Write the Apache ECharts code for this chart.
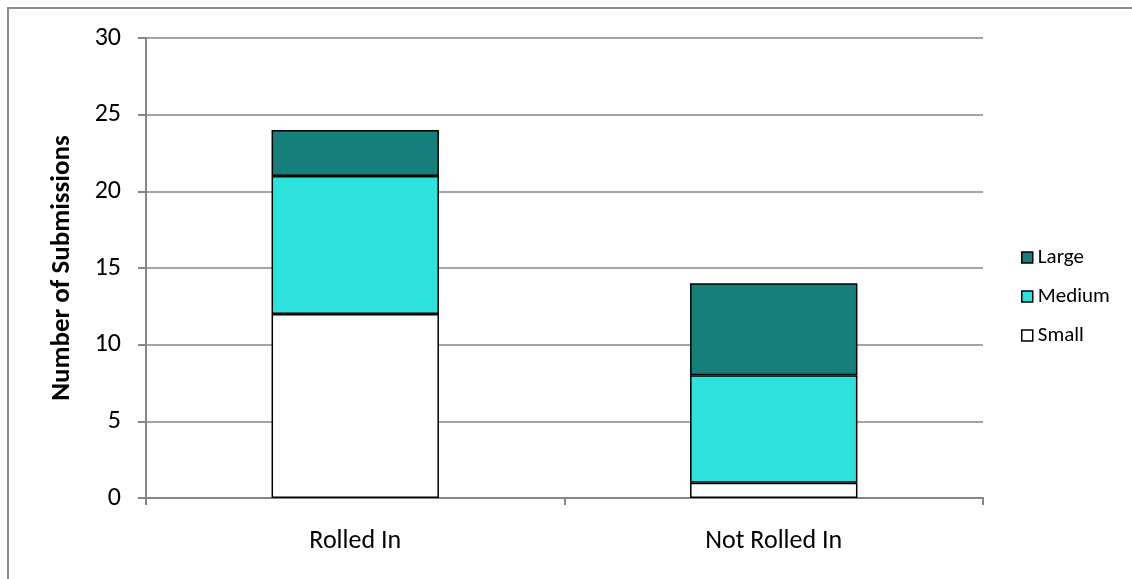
<!DOCTYPE html>
<html>
<head>
<meta charset="utf-8">
<script src="https://cdn.jsdelivr.net/npm/echarts@6/dist/echarts.min.js"></script>
<style>
  html, body { margin: 0; padding: 0; background: #fff; }
  #chart { width: 1132px; height: 579px; }
</style>
</head>
<body>
<div id="chart"></div>
<script>
// Submissions by outcome, split by size
const categories = ['Rolled In', 'Not Rolled In'];
const smallValues = [12, 1];
const mediumValues = [9, 7];
const largeValues = [3, 6];
const yTicks = { min: 0, max: 30, interval: 5 };

const font = 'Calibri, Carlito, "Open Sans", "DejaVu Sans", sans-serif';
const barBorder = { borderColor: '#000', borderWidth: 1.5 };

function stackSeries(name, data, color) {
  return {
    name: name,
    type: 'bar',
    stack: 'total',
    data: data,
    barWidth: '40%',
    itemStyle: Object.assign({ color: color }, barBorder),
    emphasis: { disabled: true }
  };
}

const chart = echarts.init(document.getElementById('chart'), null, { renderer: 'canvas' });
chart.setOption({
  animation: false,
  backgroundColor: '#fff',
  graphic: [{
    type: 'rect',
    shape: { x: 8, y: 8, width: 1300, height: 700 },
    style: { fill: 'none', stroke: '#8c8c8c', lineWidth: 2 },
    silent: true
  }],
  grid: { left: 146, top: 38, right: 149, bottom: 81, containLabel: false },
  legend: {
    orient: 'vertical',
    left: 1016,
    top: 242,
    itemGap: 18,
    itemWidth: 11,
    itemHeight: 11,
    icon: 'rect',
    data: ['Large', 'Medium', 'Small'],
    textStyle: { fontFamily: font, fontSize: 21, color: '#000' },
    itemStyle: { borderColor: '#000', borderWidth: 1.5 }
  },
  xAxis: {
    type: 'category',
    data: categories,
    axisLine: { lineStyle: { color: '#868686', width: 2 } },
    axisTick: { show: true, length: 7, lineStyle: { color: '#868686', width: 2 } },
    axisLabel: { fontFamily: font, fontSize: 26, color: '#000', margin: 30 }
  },
  yAxis: {
    type: 'value',
    min: yTicks.min,
    max: yTicks.max,
    interval: yTicks.interval,
    name: 'Number of Submissions',
    nameLocation: 'middle',
    nameGap: 70,
    nameTextStyle: { fontFamily: font, fontSize: 27, fontWeight: 'bold', color: '#000' },
    axisLine: { show: true, lineStyle: { color: '#868686', width: 2 } },
    axisTick: { show: true, length: 8, lineStyle: { color: '#868686', width: 2 } },
    axisLabel: { fontFamily: font, fontSize: 26, color: '#000', margin: 25 },
    splitLine: { lineStyle: { color: '#868686', width: 1.5 } }
  },
  series: [
    stackSeries('Small', smallValues, '#ffffff'),
    stackSeries('Medium', mediumValues, '#2de1dc'),
    stackSeries('Large', largeValues, '#167f7b')
  ]
});
</script>
</body>
</html>
